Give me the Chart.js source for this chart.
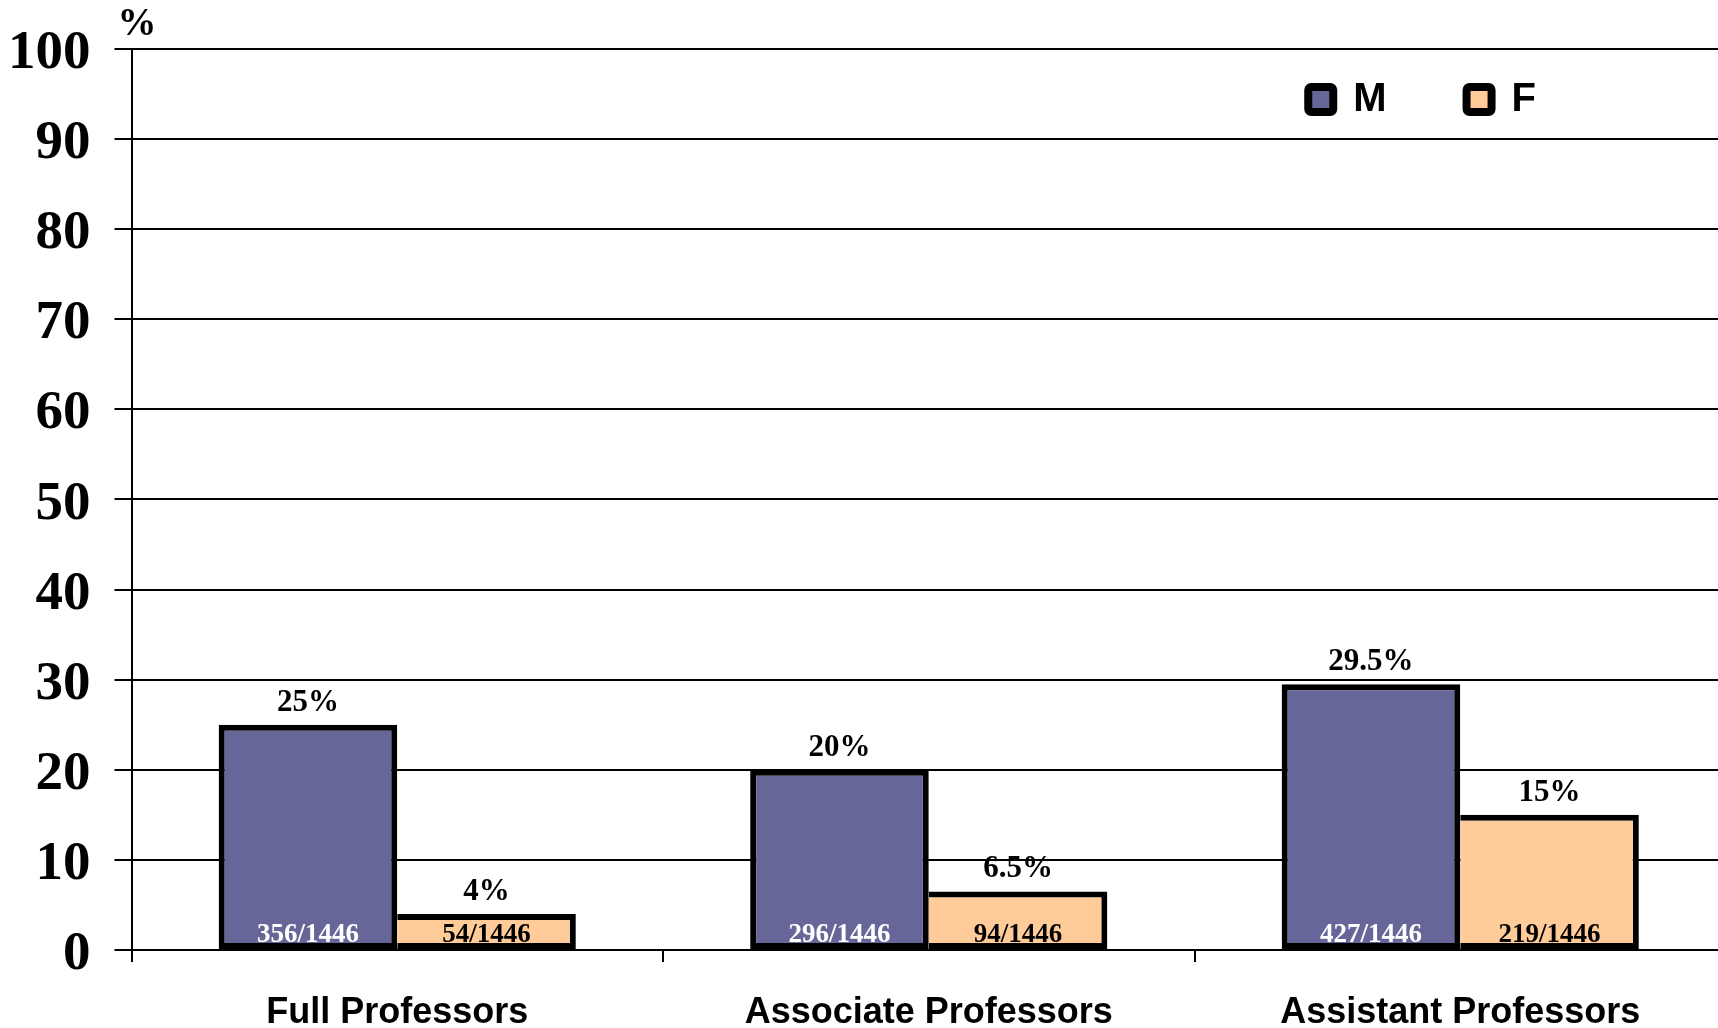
<!DOCTYPE html>
<html>
<head>
<meta charset="utf-8">
<title>Professors by gender</title>
<script src="https://cdn.jsdelivr.net/npm/chart.js@4.4.1/dist/chart.umd.min.js"></script>
<style>
  html, body { margin: 0; padding: 0; background: #fff; overflow: hidden; }
  #wrap { width: 1718px; height: 1028px; overflow: hidden; }
</style>
</head>
<body>
<div id="wrap"><canvas id="grafica" width="1726" height="1028"></canvas></div>
<script>
// datos
const categorias = ['Full Professors', 'Associate Professors', 'Assistant Professors'];
const valoresM = [25, 20, 29.5];
const valoresF = [4, 6.5, 15];
const etiquetasM = ['25%', '20%', '29.5%'];
const etiquetasF = ['4%', '6.5%', '15%'];
const conteosM = ['356/1446', '296/1446', '427/1446'];
const conteosF = ['54/1446', '94/1446', '219/1446'];
const ticksY = [0, 10, 20, 30, 40, 50, 60, 70, 80, 90, 100];

const serif = "'Liberation Serif', 'Times New Roman', serif";
const sans = "'Liberation Sans Narrow', 'Arial Narrow', 'Liberation Sans', Arial, sans-serif";

// etiquetas encima y dentro de las barras
const etiquetasBarras = {
    id: 'etiquetasBarras',
    afterDatasetsDraw(chart) {
        const ctx = chart.ctx;
        const arriba = [etiquetasM, etiquetasF];
        const dentro = [conteosM, conteosF];
        ctx.save();
        ctx.textAlign = 'center';
        ctx.textBaseline = 'alphabetic';
        chart.data.datasets.forEach((ds, i) => {
            const meta = chart.getDatasetMeta(i);
            meta.data.forEach((bar, j) => {
                ctx.fillStyle = '#000';
                ctx.font = 'bold 31px ' + serif;
                ctx.fillText(arriba[i][j], bar.x, bar.y - 14);
                ctx.fillStyle = i === 0 ? '#fff' : '#000';
                ctx.font = 'bold 27px ' + serif;
                ctx.fillText(dentro[i][j], bar.x, bar.base - 7);
            });
        });
        ctx.restore();
    }
};

// la leyenda va dentro del area del grafico, arriba a la derecha
const leyendaDentro = {
    id: 'leyendaDentro',
    beforeInit(chart) {
        const lg = chart.legend;
        if (!lg) return;
        const fitOriginal = lg.fit.bind(lg);
        lg.fit = function () {
            fitOriginal();
            this.height = 0; // no ocupa espacio arriba
        };
    },
    afterLayout(chart) {
        const lg = chart.legend;
        if (lg) {
            lg.top = -0.5;
            lg.bottom = 300;
            lg.height = 300.5;
            lg.right = 1616;
            lg.left = 1000;
            lg.width = 616;
        }
        // el "%" queda un poco a la izquierda del eje
        if (chart.titleBlock) {
            chart.titleBlock.left = chart.chartArea.left - 14;
        }
    }
};

const ctx = document.getElementById('grafica').getContext('2d');

new Chart(ctx, {
    type: 'bar',
    data: {
        labels: categorias,
        datasets: [
            {
                label: 'M',
                data: valoresM,
                backgroundColor: '#666699',
                borderColor: '#000',
                borderWidth: { top: 6, right: 6, bottom: 6, left: 6 },
                borderSkipped: false
            },
            {
                label: 'F',
                data: valoresF,
                backgroundColor: '#FFCC99',
                borderColor: '#000',
                borderWidth: { top: 6, right: 6, bottom: 6, left: 0 },
                borderSkipped: false
            }
        ]
    },
    options: {
        responsive: false,
        devicePixelRatio: 1,
        animation: false,
        layout: { padding: 0 },
        datasets: {
            bar: { barPercentage: 1.0, categoryPercentage: 0.672 }
        },
        plugins: {
            title: {
                display: true,
                text: '%',
                align: 'start',
                fullSize: false,
                color: '#000',
                font: { family: serif, size: 39, weight: 'bold' },
                padding: { top: 2, bottom: 0 }
            },
            legend: {
                display: true,
                position: 'top',
                align: 'end',
                labels: {
                    color: '#000',
                    font: { family: sans, size: 40, weight: 'bold' },
                    boxWidth: 25,
                    boxHeight: 25,
                    padding: 80,
                    useBorderRadius: true,
                    generateLabels(chart) {
                        const items = Chart.defaults.plugins.legend.labels.generateLabels(chart);
                        items.forEach(it => {
                            it.lineWidth = 8;
                            it.strokeStyle = '#000';
                            it.borderRadius = 3;
                        });
                        return items;
                    }
                }
            },
            tooltip: { enabled: false }
        },
        scales: {
            x: {
                afterFit(scale) {
                    scale.height = 78;
                },
                grid: {
                    offset: true,
                    drawOnChartArea: false,
                    drawTicks: true,
                    tickLength: 12,
                    color: '#000',
                    lineWidth: 2
                },
                border: { display: true, color: '#000', width: 2 },
                ticks: {
                    color: '#000',
                    padding: 29,
                    font: { family: sans, size: 36, weight: 'bold' }
                }
            },
            y: {
                min: 0,
                max: 100,
                afterFit(scale) {
                    scale.width = 131.5;
                    scale.paddingTop = 0;
                    scale.paddingBottom = 0;
                },
                afterBuildTicks(scale) {
                    scale.ticks = ticksY.map(v => ({ value: v }));
                },
                grid: {
                    color: '#000',
                    lineWidth: 2,
                    tickLength: 17
                },
                border: { display: true, color: '#000', width: 2 },
                ticks: {
                    color: '#000',
                    padding: 24,
                    labelOffset: 5,
                    font: { family: serif, size: 55, weight: 'bold' }
                }
            }
        }
    },
    plugins: [etiquetasBarras, leyendaDentro]
});
</script>
</body>
</html>
